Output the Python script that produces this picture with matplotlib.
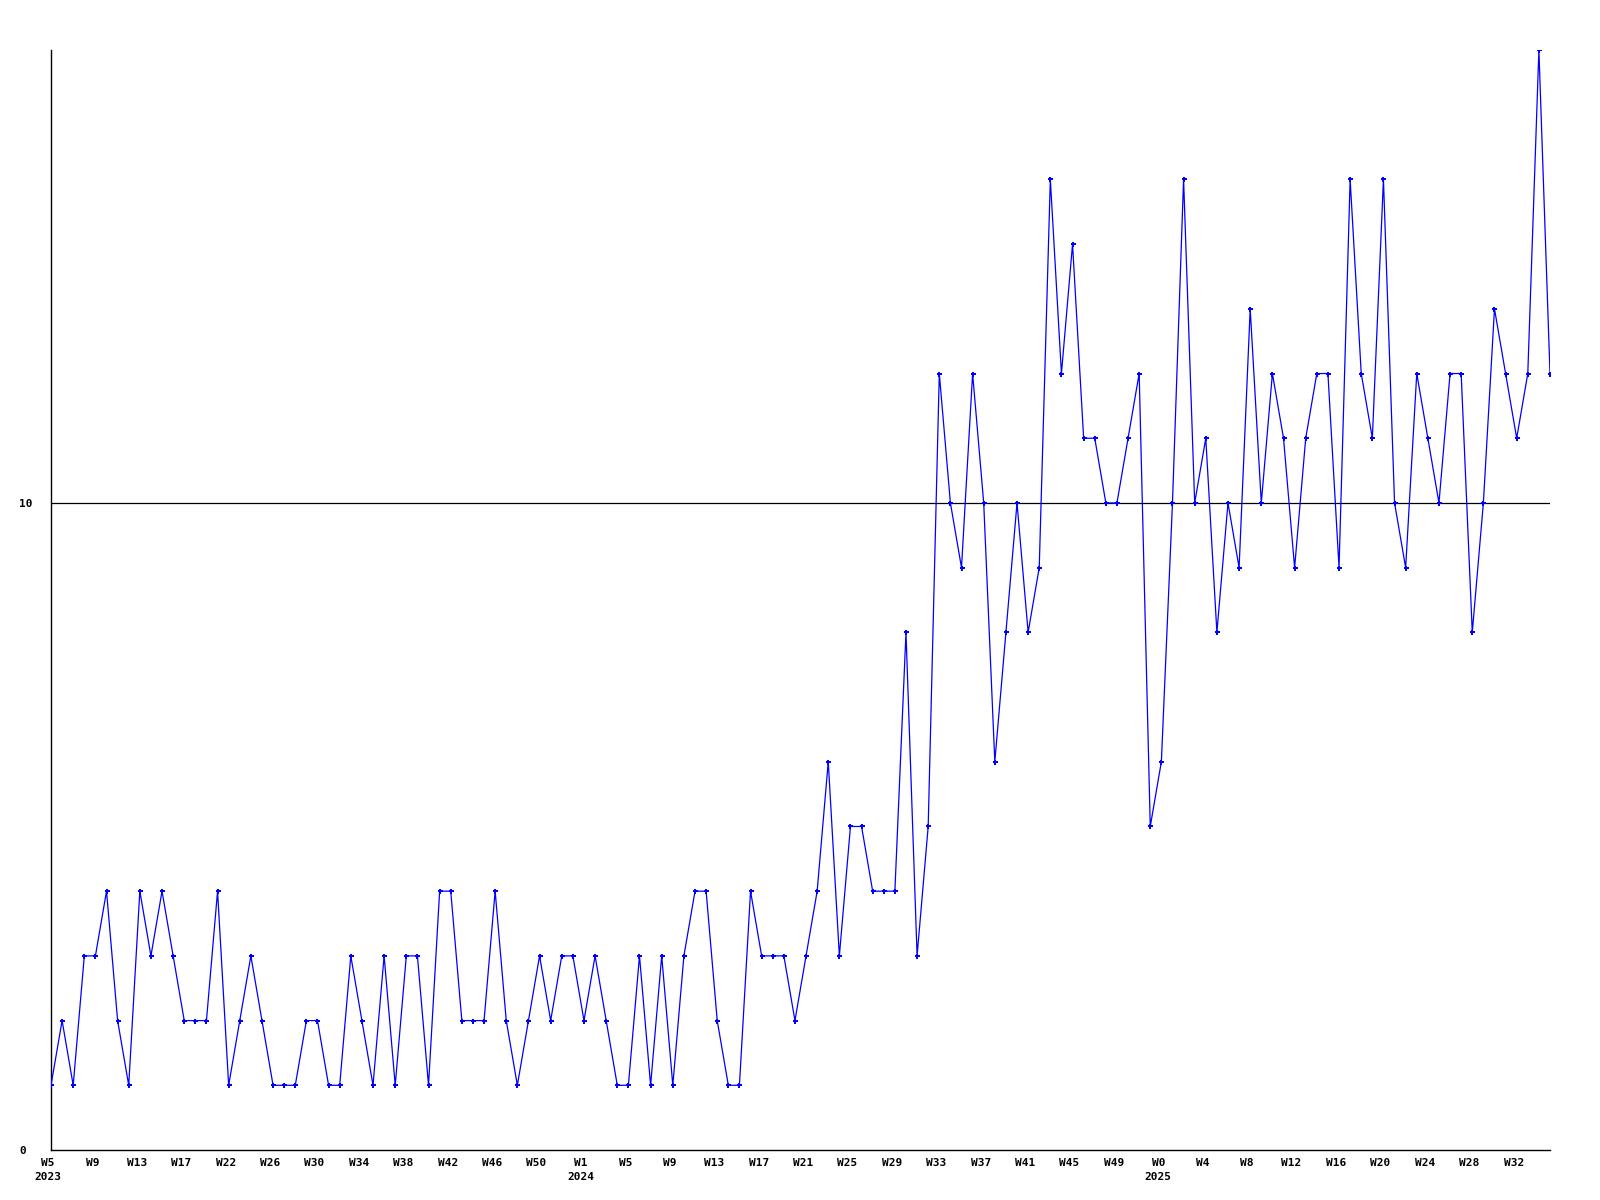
import matplotlib
matplotlib.use("Agg")
import matplotlib.pyplot as plt
import matplotlib.transforms as mtransforms

# weekly counts, 2023 W5 .. 2025 W35
values = [1, 2, 1, 3, 3, 4, 2, 1, 4, 3, 4, 3, 2, 2, 2, 4, 1, 2, 3, 2,
          1, 1, 1, 2, 2, 1, 1, 3, 2, 1, 3, 1, 3, 3, 1, 4, 4, 2, 2, 2,
          4, 2, 1, 2, 3, 2, 3, 3, 2, 3, 2, 1, 1, 3, 1, 3, 1, 3, 4, 4,
          2, 1, 1, 4, 3, 3, 3, 2, 3, 4, 6, 3, 5, 5, 4, 4, 4, 8, 3, 5,
          12, 10, 9, 12, 10, 6, 8, 10, 8, 9, 15, 12, 14, 11, 11, 10, 10, 11, 12, 5,
          6, 10, 15, 10, 11, 8, 10, 9, 13, 10, 12, 11, 9, 11, 12, 12, 9, 15, 12, 11,
          15, 10, 9, 12, 11, 10, 12, 12, 8, 10, 13, 12, 11, 12, 17, 12]

week_labels = ["W5", "W9", "W13", "W17", "W22", "W26", "W30", "W34", "W38",
               "W42", "W46", "W50", "W1", "W5", "W9", "W13", "W17", "W21",
               "W25", "W29", "W33", "W37", "W41", "W45", "W49", "W0", "W4",
               "W8", "W12", "W16", "W20", "W24", "W28", "W32"]
label_step = 4

years = ["2023", "2024", "2025"]
year_ticks = [0, 48, 100]

y_ticks = [0, 10]

font = {"family": "DejaVu Sans Mono", "weight": "bold", "size": 8}

fig = plt.figure(figsize=(16, 12), dpi=100)
ax = fig.add_axes([51 / 1600, 1 - 1150 / 1200, 1499 / 1600, 1100 / 1200])

x = list(range(len(values)))
ax.plot(x, values, color="#0000ff", linewidth=0.9, marker="P",
        markersize=3.6, markeredgewidth=0, zorder=3)
ax.axhline(10, color="black", linewidth=0.9, zorder=2)

ax.set_xlim(0, len(values) - 1)
ax.set_ylim(0, max(values))

for side in ["top", "right"]:
    ax.spines[side].set_visible(False)
for side in ["left", "bottom"]:
    ax.spines[side].set_color("black")
    ax.spines[side].set_linewidth(1.0)

ticks = [i * label_step for i in range(len(week_labels))]
ax.set_xticks(ticks)
ax.set_xticklabels(week_labels, fontdict=font)
ax.tick_params(axis="x", length=0, pad=6)

# labels sit a few pixels left of their point in the original
shift = mtransforms.ScaledTranslation(-3 / 100, 0, fig.dpi_scale_trans)
for lbl in ax.get_xticklabels():
    lbl.set_transform(lbl.get_transform() + shift)

ax.set_yticks(y_ticks)
ax.set_yticklabels([str(t) for t in y_ticks], fontdict=font, ha="left")
ax.tick_params(axis="y", length=0, pad=23)

trans = mtransforms.blended_transform_factory(ax.transData, ax.transAxes)
for yr, pos in zip(years, year_ticks):
    ax.text(pos, -0.0245, yr, transform=trans + shift, ha="center",
            va="center", fontdict=font)

fig.savefig("out.png", dpi=100, facecolor="white")
